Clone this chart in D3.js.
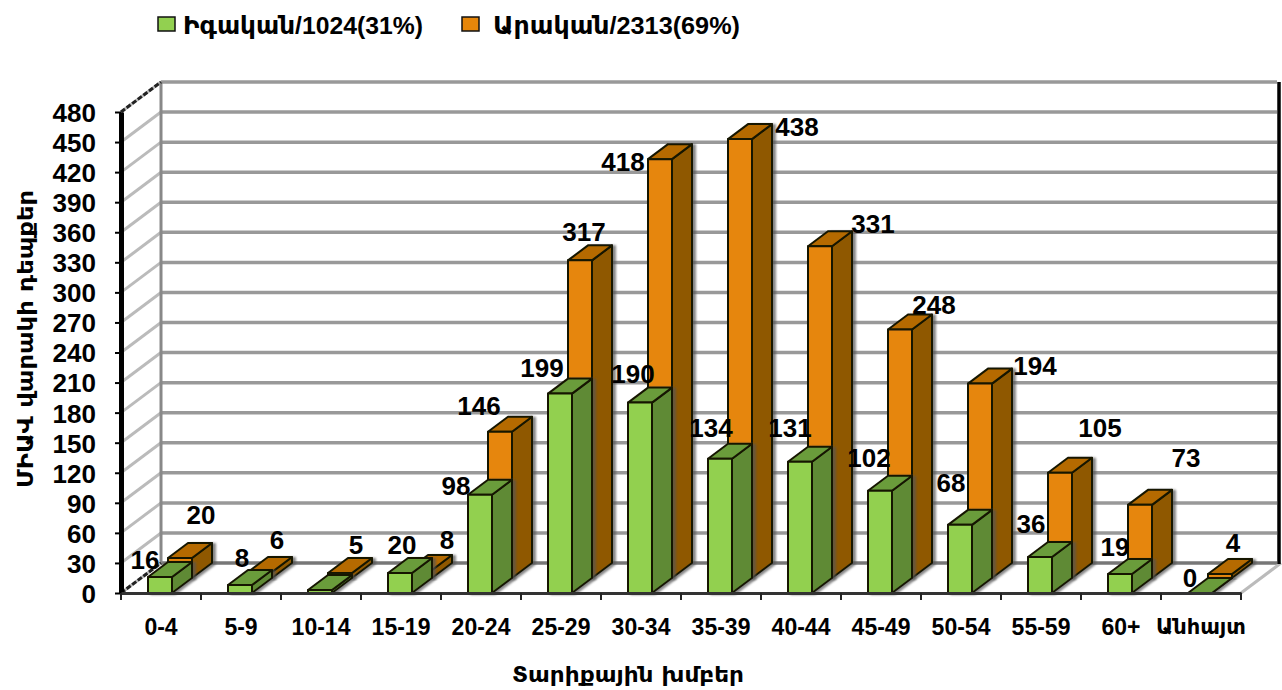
<!DOCTYPE html>
<html>
<head>
<meta charset="utf-8">
<script src="https://cdn.jsdelivr.net/npm/d3@7/dist/d3.min.js"></script>
<style>
  html, body { margin: 0; padding: 0; background: #fff; overflow: hidden; }
  text { font-family: "Liberation Sans", "DejaVu Sans", sans-serif; font-weight: bold; fill: #000; }
  .g-armenian { font-family: "DejaVu Sans", "Liberation Sans", sans-serif; }
</style>
</head>
<body>
<svg id="chart" width="1282" height="690"></svg>
<script>
const categories = ["0-4","5-9","10-14","15-19","20-24","25-29","30-34","35-39","40-44","45-49","50-54","55-59","60+","Անհայտ"];
const female = [16,8,3,20,98,199,190,134,131,102,68,36,19,0];
const male = [20,6,5,8,146,317,418,438,331,248,194,105,73,4];
const yTicks = d3.range(0, 481, 30);
const legendLabels = ["Իգական/1024(31%)", "Արական/2313(69%)"];
const yTitle = "ՄԻԱՎ վարակի դեպքեր";
const xTitle = "Տարիքային խմբեր";

// label nudges from the top of each bar, they were hand placed in the original
const femaleNudge = [[-15,-17],[2,-27],null,[2,-28],[-24,-9],[-18,-26],[-7,-29],[-9,-31],[-10,-34],[-11,-33],[-9,-42],[-9,-33],[-5,-27],[-10,-15]];
const maleNudge = [[21,-43],[17,-32],[16,-28],[27,-30],[-21,-26],[4,-29],[-37,3],[57,-12],[53,-23],[34,-25],[55,-18],[40,-45],[46,-47],[13,-31]];

const depthX = 40, depthY = -30;
const barW = 24, barInset = 27;

const colors = {
  green: { front: "#92d050", side: "#5f8a35", top: "#6b9c3a" },
  orange: { front: "#e6860a", side: "#8f5800", top: "#b56a04" }
};

const svg = d3.select("#chart");

const x = d3.scaleBand().domain(categories).range([121, 1241]);
const y = d3.scaleLinear().domain([0, 480]).range([593, 112]);

let defs = svg.append("defs");
defs.append("filter").attr("id", "shadow")
  .attr("x", "-30%").attr("y", "-10%").attr("width", "160%").attr("height", "120%")
  .append("feDropShadow")
  .attr("dx", 3).attr("dy", 1).attr("stdDeviation", 1)
  .attr("flood-color", "#555").attr("flood-opacity", 0.7);
defs.append("filter").attr("id", "soft")
  .append("feGaussianBlur").attr("stdDeviation", 0.5);

// walls and gridlines
let wall = svg.append("g").attr("filter", "url(#soft)");
yTicks.forEach(function(t){
  let gy = y(t);
  wall.append("line")
    .attr("x1", x.range()[0]).attr("y1", gy)
    .attr("x2", x.range()[0] + depthX).attr("y2", gy + depthY)
    .style("stroke", "#bbb").style("stroke-width", 3);
  wall.append("line")
    .attr("x1", x.range()[0] + depthX).attr("y1", gy + depthY)
    .attr("x2", x.range()[1] + 36).attr("y2", gy + depthY)
    .style("stroke", t == 0 ? "#777" : "#999").style("stroke-width", 3.5);
});
wall.append("line")
  .attr("x1", x.range()[0] + depthX).attr("y1", y(480) + depthY)
  .attr("x2", x.range()[0] + depthX).attr("y2", y(0) + depthY)
  .style("stroke", "#888").style("stroke-width", 3);
wall.append("line")
  .attr("x1", x.range()[1]).attr("y1", y(0))
  .attr("x2", x.range()[1] + depthX).attr("y2", y(0) + depthY)
  .style("stroke", "#bbb").style("stroke-width", 3);
svg.append("line")
  .attr("x1", x.range()[1] + 38).attr("y1", y(480) + depthY)
  .attr("x2", x.range()[1] + 38).attr("y2", y(0) + depthY + 1)
  .style("stroke", "#000").style("stroke-width", 3.5);
[0, 480].forEach(function(t){
  svg.append("line")
    .attr("x1", x.range()[0]).attr("y1", y(t))
    .attr("x2", x.range()[0] + depthX).attr("y2", y(t) + depthY)
    .style("stroke", "#222").style("stroke-width", 3)
    .style("stroke-dasharray", "5 2");
});

function drawBar(g, left, value, back, c) {
  let base = y(0) + back * depthY / 2;
  let top = base - (y(0) - y(value));
  let right = left + barW;
  let dx = depthX / 2, dy = depthY / 2;
  let bar = g.append("g").attr("filter", "url(#shadow)")
    .style("stroke", "#161605").style("stroke-width", 2).style("stroke-linejoin", "round");
  bar.append("path").style("fill", c.side)
    .attr("d", `M${right},${top} L${right + dx},${top + dy} L${right + dx},${base + dy} L${right},${base} Z`);
  bar.append("path").style("fill", c.top)
    .attr("d", `M${left},${top} L${left + dx},${top + dy} L${right + dx},${top + dy} L${right},${top} Z`);
  bar.append("rect").style("fill", c.front)
    .attr("x", left).attr("y", top).attr("width", barW).attr("height", base - top);
}

let bars = svg.append("g");
categories.forEach(function(cat, i){
  let left = x(cat) + barInset;
  drawBar(bars, left + depthX / 2, male[i], 1, colors.orange);
  drawBar(bars, left, female[i], 0, colors.green);
});

// axes
let yaxis = svg.append("g")
  .attr("transform", `translate(${x.range()[0]},0)`)
  .call(d3.axisLeft(y).tickValues(yTicks).tickSize(6).tickPadding(19).tickSizeOuter(0));
yaxis.select(".domain").style("stroke", "#000").style("stroke-width", 5);
yaxis.selectAll(".tick line").style("stroke", "#000").style("stroke-width", 2);
yaxis.selectAll("text").style("font-size", "26px").style("font-family", null).attr("dy", "0.36em");

let xaxis = svg.append("g")
  .attr("transform", `translate(0,${y(0)})`)
  .call(d3.axisBottom(x).tickSize(0).tickPadding(26));
xaxis.select(".domain").style("stroke", "#333").style("stroke-width", 3);
xaxis.selectAll("text").style("font-size", "23px").style("font-family", null);
xaxis.selectAll(".tick text").filter(d => d == "Անհայտ").style("font-size", "21px").classed("g-armenian", true);
x.domain().concat(["end"]).forEach(function(d, i){
  let tx = i == categories.length ? x.range()[1] : x(d);
  svg.append("line")
    .attr("x1", tx).attr("x2", tx).attr("y1", y(0)).attr("y2", y(0) + 7)
    .style("stroke", "#222").style("stroke-width", 2);
});

// data labels
function addLabels(values, nudge, leftInset, back) {
  values.forEach(function(v, i){
    if (!nudge[i]) return;
    svg.append("text")
      .attr("x", x(categories[i]) + leftInset + barW / 2 + nudge[i][0])
      .attr("y", y(v) + back * depthY / 2 + nudge[i][1])
      .attr("dy", "0.36em")
      .style("text-anchor", "middle")
      .style("font-size", "26px")
      .text(v);
  });
}
addLabels(male, maleNudge, barInset + depthX / 2, 1);
addLabels(female, femaleNudge, barInset, 0);

// legend
let legendX = [158, 462];
[colors.green, colors.orange].forEach(function(c, i){
  svg.append("rect")
    .attr("x", legendX[i]).attr("y", 17).attr("width", 17).attr("height", 14)
    .style("fill", c.front).style("stroke", "#111").style("stroke-width", 1.5);
  svg.append("text")
    .attr("x", legendX[i] + (i == 0 ? 25 : 31)).attr("y", 34)
    .style("font-size", "24px")
    .attr("textLength", i == 0 ? 240 : 247)
    .attr("lengthAdjust", "spacingAndGlyphs")
    .text(legendLabels[i]);
});

// axis titles
svg.append("text").attr("class", "g-armenian")
  .attr("transform", "translate(33,339) rotate(-90)")
  .style("text-anchor", "middle")
  .style("font-size", "22px")
  .attr("textLength", 298)
  .attr("lengthAdjust", "spacingAndGlyphs")
  .text(yTitle);
svg.append("text").attr("class", "g-armenian")
  .attr("x", 628).attr("y", 682)
  .style("text-anchor", "middle")
  .style("font-size", "22px")
  .attr("textLength", 232)
  .attr("lengthAdjust", "spacingAndGlyphs")
  .text(xTitle);
</script>
</body>
</html>
